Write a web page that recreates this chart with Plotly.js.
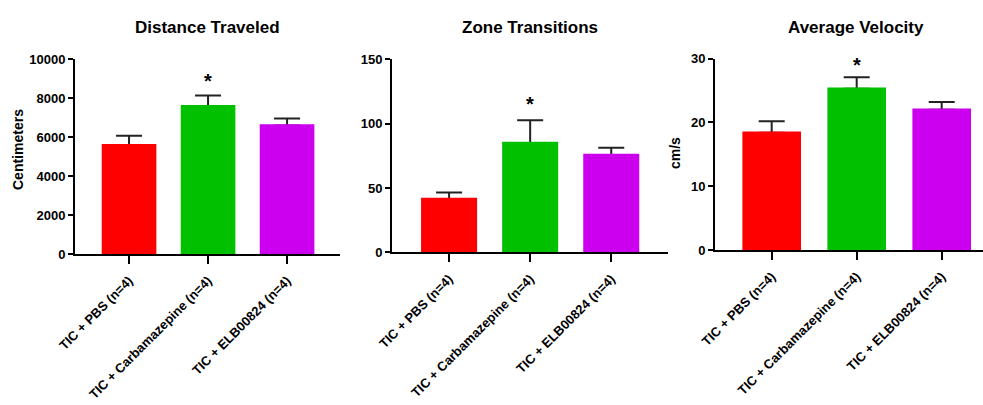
<!DOCTYPE html>
<html>
<head>
<meta charset="utf-8">
<script src="https://cdn.plot.ly/plotly-3.0.1.min.js"></script>
<style>html,body{margin:0;padding:0;background:#fff;}#chart{width:983px;height:405px;}</style>
</head>
<body>
<div id="chart"></div>
<script>
const categories = ["TIC + PBS (n=4)", "TIC + Carbamazepine (n=4)", "TIC + ELB00824 (n=4)"];
const colors = ["#ff0000", "#00c000", "#cc00ee"];

const panelTitles = ["Distance Traveled", "Zone Transitions", "Average Velocity"];
const yTitles = ["Centimeters", "", "cm/s"];

const distanceMean = [5580, 7580, 6590];
const distanceErr = [480, 550, 360];
const zoneMean = [41.5, 85.0, 75.7];
const zoneErr = [5.0, 17.6, 5.5];
const velocityMean = [18.4, 25.3, 22.0];
const velocityErr = [1.8, 1.8, 1.2];

const sigIndex = [1, 1, 1];   // bar marked with "*"

const W = 983, H = 405;
const FONT = "Liberation Sans, Arial, sans-serif";

// pixel geometry of each panel
const panels = [
  {px:[75, 340], py:[59, 254], range:[-0.684, 2.67], yr:[0, 10000], dtick:2000, mean:distanceMean, err:distanceErr, tshift:0, yshift:1},
  {px:[392, 668], py:[59.3, 252.3], range:[-0.704, 2.70], yr:[0, 150], dtick:50, mean:zoneMean, err:zoneErr, tshift:0, yshift:3},
  {px:[715, 983], py:[58.7, 250], range:[-0.667, 2.486], yr:[0, 30], dtick:10, mean:velocityMean, err:velocityErr, tshift:7, yshift:-1}
];

const data = [];
const layout = {
  width: W, height: H,
  margin: {l:0, r:0, t:0, b:0},
  paper_bgcolor: "#fff", plot_bgcolor: "#fff",
  showlegend: false,
  barmode: "overlay",
  font: {family: FONT, color: "#000"},
  annotations: []
};

panels.forEach((p, i) => {
  const n = i === 0 ? "" : String(i + 1);
  // bars with upward error bars
  data.push({
    type: "bar",
    x: [0, 1, 2],
    y: p.mean,
    width: 0.66,
    marker: {color: colors, line: {width: 0}},
    error_y: {type: "data", array: p.err, arrayminus: [0, 0, 0], symmetric: false,
              color: "#222", thickness: 2, width: 13},
    xaxis: "x" + n, yaxis: "y" + n,
    hoverinfo: "none"
  });
  // same bars again on top, hiding the lower error cap
  data.push({
    type: "bar",
    x: [0, 1, 2],
    y: p.mean,
    width: 0.66,
    marker: {color: colors, line: {width: 2.5, color: colors}},
    xaxis: "x" + n, yaxis: "y" + n,
    hoverinfo: "none"
  });
  layout["xaxis" + n] = {
    domain: [p.px[0] / W, p.px[1] / W],
    anchor: "y" + n,
    range: p.range,
    tickmode: "array",
    tickvals: [0, 1, 2],
    ticktext: categories.map(c => "<b>" + c + "</b>"),
    tickangle: -45,
    ticks: "outside", ticklen: 8, tickwidth: 2, tickcolor: "#000",
    ticklabelstandoff: 4,
    showline: true, linewidth: 2, linecolor: "#000",
    showgrid: false, zeroline: false,
    tickfont: {family: FONT, size: 13, color: "#000"},
    fixedrange: true
  };
  layout["yaxis" + n] = {
    domain: [(H - p.py[1]) / H, (H - p.py[0]) / H],
    anchor: "x" + n,
    range: p.yr,
    dtick: p.dtick,
    tick0: 0,
    tickformat: "d",
    ticks: "outside", ticklen: 5, tickwidth: 2, tickcolor: "#000",
    showline: true, linewidth: 2, linecolor: "#000",
    showgrid: false, zeroline: false,
    tickfont: {family: FONT, size: 13, color: "#000"},
    tickprefix: "<b>", ticksuffix: "</b>",
    fixedrange: true
  };
  // panel title
  layout.annotations.push({
    text: "<b>" + panelTitles[i] + "</b>",
    xref: "paper", yref: "paper",
    x: ((p.px[0] + p.px[1]) / 2 + p.tshift) / W,
    y: 1 - 28 / H,
    xanchor: "center", yanchor: "middle", showarrow: false,
    font: {family: FONT, size: 17, color: "#000"}
  });
  // y title
  if (yTitles[i]) {
    layout.annotations.push({
      text: "<b>" + yTitles[i] + "</b>",
      xref: "paper", yref: "paper",
      x: (i === 0 ? 18 : 675) / W,
      y: 1 - (i === 0 ? 150 : 153) / H,
      xanchor: "center", yanchor: "middle", showarrow: false, textangle: -90,
      font: {family: FONT, size: 14, color: "#000"}
    });
  }
  // significance star
  const k = sigIndex[i];
  layout.annotations.push({
    text: "<b>*</b>",
    xref: "x" + n, yref: "y" + n,
    x: k, y: p.mean[k] + p.err[k],
    xanchor: "center", yanchor: "bottom", showarrow: false,
    yshift: p.yshift,
    font: {family: FONT, size: 20, color: "#000"}
  });
});

Plotly.newPlot("chart", data, layout, {staticPlot: true, displayModeBar: false});
</script>
</body>
</html>
